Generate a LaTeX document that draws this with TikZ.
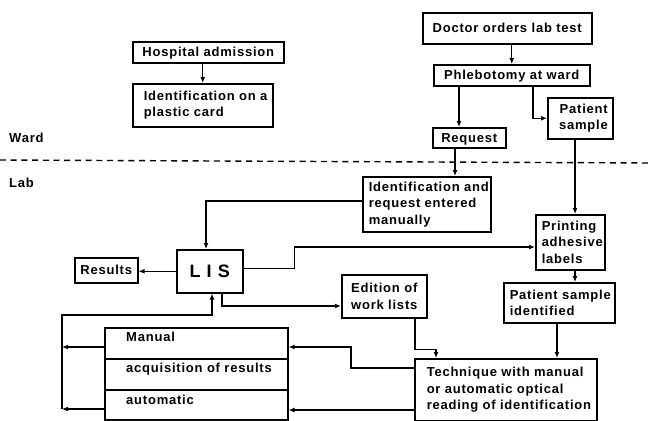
\documentclass[tikz,border=0pt]{standalone}
\usepackage{fontspec}
\setmainfont{Liberation Sans}[LetterSpace=6]
\usetikzlibrary{arrows.meta}

\tikzset{
  lbl/.style={font=\fontsize{13}{16.5}\selectfont\bfseries, inner sep=0pt},
  box/.style={lbl, draw, line width=1.5pt, anchor=north west, inner sep=0pt},
  lbox/.style={box, align=left, text width=#1},
  cbox/.style={box, align=center},
  onebox/.style={box, text height=9.3pt, text depth=0pt},
  arr/.style={line width=1.4pt, -{Latex[length=6pt,width=5pt]}},
}

\begin{document}
\begin{tikzpicture}[x=1pt,y=-1pt]
\useasboundingbox (0,0) rectangle (649,421);

% ward / lab separation
\node[lbl, anchor=west] (ward) at (9,138) {Ward};
\node[lbl, anchor=west] (lab) at (9,183) {Lab};
\draw[line width=1.4pt, dash pattern=on 6pt off 4.7pt] (0,160) -- (649,163);

% ward side
\node[onebox, minimum width=151pt, minimum height=21pt] (hosp) at (132,41) {Hospital admission};
\node[lbox=118pt, minimum width=140pt, minimum height=43pt, inner xsep=11pt] (card) at (132,83)
  {\mbox{Identification on a}\\\mbox{plastic card}};
\node[onebox, minimum width=169pt, minimum height=31pt] (doctor) at (422,12) {Doctor orders lab test};
\node[onebox, minimum width=156pt, minimum height=21pt] (phleb) at (433,64) {Phlebotomy at ward};
\node[onebox, minimum width=73pt, minimum height=20pt] (req) at (432,127) {Request};
\node[box, align=right, text width=55pt, inner xsep=5pt, minimum height=41pt] (psample) at (547,97)
  {\mbox{Patient}\\\mbox{sample}};

% lab side
\node[lbox=116pt, inner xsep=6pt, minimum height=55pt] (ident) at (362,176)
  {\mbox{Identification and}\\\mbox{request entered}\\\mbox{manually}};
\node[lbox=57pt, inner xsep=6pt, minimum height=55pt] (print) at (535,214)
  {\mbox{Printing}\\\mbox{adhesive}\\\mbox{labels}};
\node[lbox=99pt, inner xsep=6pt, minimum height=40pt] (psid) at (503,282)
  {\mbox{Patient sample}\\\mbox{identified}};
\node[cbox, minimum width=85pt, minimum height=43pt] (edition) at (341,274)
  {Edition of\\work lists};
\node[lbox=158pt, inner xsep=12pt, minimum height=62pt] (tech) at (414,358)
  {\mbox{Technique with manual}\\\mbox{or automatic optical}\\\mbox{reading of identification}};
\node[box, minimum width=66pt, minimum height=43pt,
      font=\fontsize{18}{20}\selectfont\bfseries] (lis) at (176,249) {L I S};
\node[onebox, minimum width=63pt, minimum height=25pt] (results) at (74,257) {Results};

% result acquisition block
\node[box, minimum width=183pt, minimum height=31pt] (man) at (104,327) {};
\node[box, minimum width=183pt, minimum height=31pt] (acq) at (104,358) {};
\node[box, minimum width=183pt, minimum height=30pt] (auto) at (104,389) {};
\node[lbl, anchor=west] (mant) at ([xshift=22pt,yshift=-10pt]man.north west) {Manual};
\node[lbl, anchor=west] (acqt) at ([xshift=22pt,yshift=-11pt]acq.north west) {acquisition of results};
\node[lbl, anchor=west] (autot) at ([xshift=22pt,yshift=-11pt]auto.north west) {automatic};
\coordinate (bus) at (62,315);

% connectors
\draw[arr] (hosp.south -| card.north) -- (card.north);
\draw[arr] (doctor.south -| phleb.north) -- (phleb.north);
\draw[arr] ([xshift=26pt]phleb.south west) -- ([xshift=27pt]req.north west);
\draw[arr] ([xshift=100pt]phleb.south west) |- (psample.west);
\draw[arr] ([xshift=23pt]req.south west) -- ([xshift=93pt]ident.north west);
\draw[arr] ([xshift=28pt]psample.south west) -- ([xshift=40pt]print.north west);
\draw[arr] ([xshift=40pt]print.south west) -- ([xshift=72pt]psid.north west);
\draw[arr] ([xshift=54pt]psid.south west) -- ([xshift=143pt]tech.north west);
\draw[arr] ([yshift=-25pt]ident.north west) -| ([xshift=30pt]lis.north west);
\draw[arr] (lis.west) -- (lis.west -| results.east);
\draw[arr] ([yshift=2.5pt]lis.east) -- ++(51,0) |- ([yshift=-33pt]print.north west);
\draw[arr] ([xshift=46pt]lis.south west) |- ([yshift=-32pt]edition.north west);
\draw[arr] ([xshift=74pt]edition.south west) -- ++(0,31) -| ([xshift=22pt]tech.north west);
\draw[arr] ([yshift=-10pt]tech.north west) -- ++(-63,0) |- ([yshift=-20pt]man.north east);
\draw[arr] ([yshift=-52pt]tech.north west) -- ([yshift=-21pt]auto.north east);
\draw[arr] ([yshift=-20pt]man.north west) coordinate (m1) -- (m1 -| bus);
\draw[arr] ([yshift=-20pt]auto.north west) coordinate (a1) -- (a1 -| bus);
\draw[arr] (a1 -| bus) -- (bus) -| ([xshift=36pt]lis.south west);
\end{tikzpicture}
\end{document}
